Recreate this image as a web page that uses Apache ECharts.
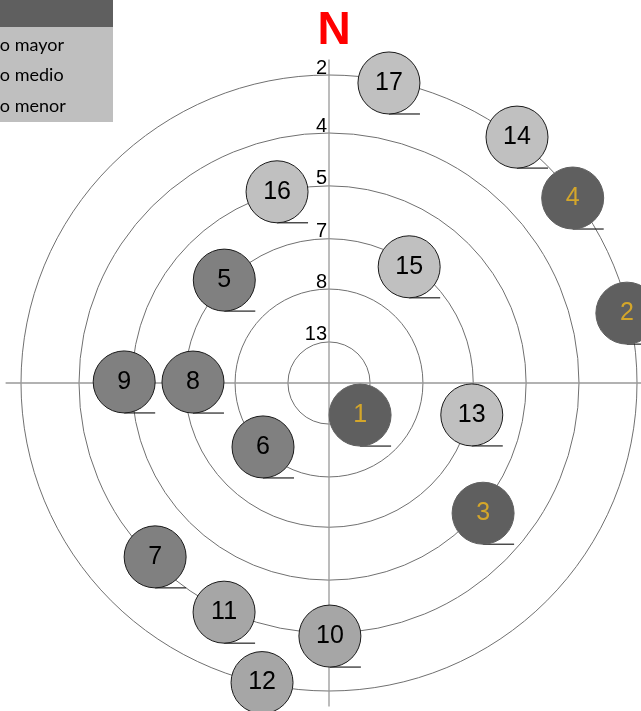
<!DOCTYPE html>
<html>
<head>
<meta charset="utf-8">
<script src="https://cdn.jsdelivr.net/npm/echarts@6/dist/echarts.min.js"></script>
<style>
  html, body { margin: 0; padding: 0; background: #fff; }
  #chart { width: 641px; height: 711px; }
</style>
</head>
<body>
<div id="chart"></div>
<script>
// rings (radius in axis units) and the label shown for each ring
const ringLabels = ['13', '8', '7', '5', '4', '2'];
const ringRadius = [8, 18.3, 28.1, 38.4, 48.7, 60];

// bubbles: id, radius (axis units), bearing (deg clockwise from N), group
const bubbleIds = ['1', '2', '3', '4', '5', '6', '7', '8', '9', '10', '11', '12', '13', '14', '15', '16', '17'];
const bubbleRadius = [8.7, 59.6, 39.3, 59.6, 28.6, 17.9, 47.9, 26.5, 39.9, 49.3, 49.1, 59.8, 28.5, 60.3, 27.5, 38.6, 59.6];
const bubbleAngle = [135.9, 76.8, 130.2, 52.8, 314.5, 225.9, 225, 270.4, 270.3, 179.8, 204.6, 192.6, 102.6, 37.4, 34.6, 344.8, 11.3];
const bubbleGroup = [0, 0, 0, 0, 1, 1, 1, 1, 1, 2, 2, 2, 3, 3, 3, 3, 3];

const legendItems = ['Riesgo mayor', 'Riesgo medio', 'Riesgo menor'];

const groupStyles = [
  { fill: '#5f5f5f', border: '#5f5f5f', text: '#d4a62a' },
  { fill: '#808080', border: '#1a1a1a', text: '#000000' },
  { fill: '#a6a6a6', border: '#1a1a1a', text: '#000000' },
  { fill: '#c0c0c0', border: '#1a1a1a', text: '#000000' }
];

const font = 'Liberation Sans, Arial, sans-serif';

const chart = echarts.init(document.getElementById('chart'));

const bubbleData = bubbleIds.map((id, i) => {
  const st = groupStyles[bubbleGroup[i]];
  return {
    name: id,
    value: [bubbleRadius[i], bubbleAngle[i]],
    itemStyle: { color: st.fill, borderColor: st.border, borderWidth: 1, opacity: 1 },
    label: { color: st.text }
  };
});

// legend prefix is cut off by the left edge in the original
const ctx = document.createElement('canvas').getContext('2d');
ctx.font = '18px Lato';
const legendX = -ctx.measureText('Riesg').width;

const option = {
  animation: false,
  title: {
    text: 'N',
    left: 329,
    top: 3,
    textAlign: 'center',
    textStyle: { color: '#ff0000', fontSize: 46, fontWeight: 'bold', fontFamily: font }
  },
  polar: {
    center: [329, 383],
    radius: 323.4
  },
  angleAxis: {
    type: 'value',
    min: 0,
    max: 360,
    interval: 90,
    startAngle: 90,
    clockwise: true,
    axisLine: { show: false },
    axisTick: { show: false },
    axisLabel: { show: false },
    splitLine: { show: true, lineStyle: { color: '#999999', width: 1.3 } }
  },
  radiusAxis: {
    type: 'value',
    min: 0,
    max: 63,
    axisLine: { show: false },
    axisTick: { show: false, customValues: ringRadius },
    axisLabel: {
      customValues: ringRadius,
      formatter: (v) => {
        let best = 0;
        ringRadius.forEach((r, i) => {
          if (Math.abs(r - v) < Math.abs(ringRadius[best] - v)) best = i;
        });
        return ringLabels[best];
      },
      align: 'right',
      verticalAlign: 'bottom',
      lineHeight: 14,
      margin: 2,
      color: '#000',
      fontSize: 20,
      fontFamily: font
    },
    splitLine: { show: true, lineStyle: { color: '#707070', width: 1 } }
  },
  series: [
    {
      type: 'scatter',
      coordinateSystem: 'polar',
      silent: true,
      z: 2,
      symbol: 'rect',
      symbolSize: [31, 1.2],
      symbolOffset: [15.5, 31],
      itemStyle: { color: '#222222', opacity: 1 },
      data: bubbleIds.map((id, i) => [bubbleRadius[i], bubbleAngle[i]])
    },
    {
      type: 'scatter',
      coordinateSystem: 'polar',
      z: 3,
      symbol: 'circle',
      symbolSize: 62,
      label: {
        show: true,
        position: 'inside',
        formatter: '{b}',
        fontSize: 25,
        fontFamily: font
      },
      data: bubbleData
    }
  ],
  graphic: [
    {
      type: 'group',
      left: 0,
      top: 0,
      children: [
        { type: 'rect', shape: { x: 0, y: 0, width: 113, height: 27 }, style: { fill: '#5f5f5f' } },
        { type: 'rect', shape: { x: 0, y: 27, width: 113, height: 95 }, style: { fill: '#bfbfbf' } }
      ]
    }
  ].concat(legendItems.map((t, i) => ({
    type: 'text',
    x: legendX,
    y: 45 + i * 30.5,
    style: {
      text: t,
      font: '18px Lato',
      fill: '#000',
      textAlign: 'left',
      textVerticalAlign: 'middle'
    }
  })))
};

chart.setOption(option);
</script>
</body>
</html>
